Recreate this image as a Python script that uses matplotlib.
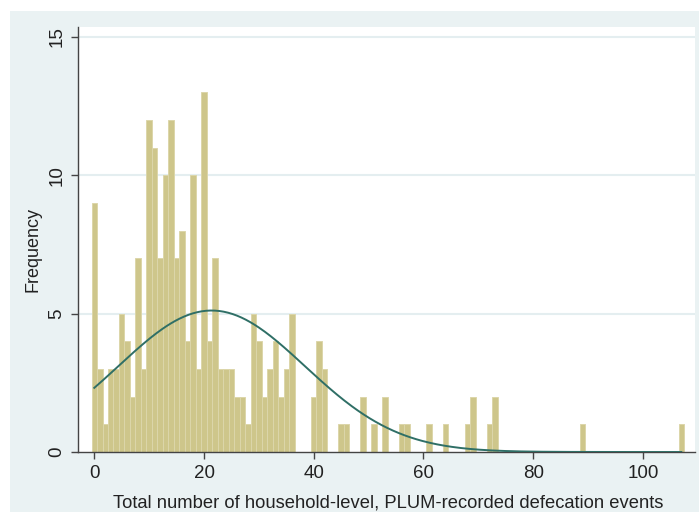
import numpy as np
import matplotlib
matplotlib.use("Agg")
import matplotlib.pyplot as plt

plt.rcParams['font.family'] = ['Liberation Sans', 'DejaVu Sans']

# Household-level event counts (discrete bins of width 1) and their frequencies
event_counts = [0, 1, 2, 3, 4, 5, 6, 7, 8, 9, 10, 11, 12, 13, 14, 15, 16, 17, 18, 19,
                20, 21, 22, 23, 24, 25, 26, 27, 28, 29, 30, 31, 32, 33, 34, 35, 36,
                40, 41, 42, 45, 46, 49, 51, 53, 56, 57, 61, 64, 68, 69, 72, 73, 89, 107]
frequencies = [9, 3, 1, 3, 3, 5, 4, 2, 7, 3, 12, 11, 7, 10, 12, 7, 8, 4, 10, 3,
               13, 4, 7, 3, 3, 3, 2, 2, 1, 5, 4, 2, 3, 4, 2, 3, 5,
               2, 4, 3, 1, 1, 2, 1, 2, 1, 1, 1, 1, 1, 2, 1, 2, 1, 1]
x_ticks = [0, 20, 40, 60, 80, 100]
y_ticks = [0, 5, 10, 15]

x = np.array(event_counts, dtype=float)
f = np.array(frequencies, dtype=float)

W, H = 699, 512
fig = plt.figure(figsize=(W / 100, H / 100), dpi=100)
fig.patch.set_facecolor('white')

# Graph region background
bg = fig.add_axes([10 / W, 0, 1 - 10 / W, 1 - 11 / H], zorder=0)
bg.set_facecolor('#eaf2f3')
bg.set_xticks([])
bg.set_yticks([])
for s in bg.spines.values():
    s.set_visible(False)

ax = fig.add_axes([78 / W, (H - 452) / H, (695 - 78) / W, (452 - 27) / H], zorder=1)
ax.set_facecolor('white')

for yv in [5, 10, 15]:
    ax.axhline(yv, color='#e4eef0', lw=1.5, zorder=0.5)

ax.bar(x, f, width=1.0, align='center', color='#cec68b', edgecolor='#dcd6aa',
       linewidth=0.7, zorder=2)

# Normal density overlay scaled to frequency
n = f.sum()
mu = (x * f).sum() / n
sd = np.sqrt(((x - mu) ** 2 * f).sum() / (n - 1))
xs = np.linspace(x.min(), x.max(), 400)
ys = n * 1.0 / (sd * np.sqrt(2 * np.pi)) * np.exp(-0.5 * ((xs - mu) / sd) ** 2)
ax.plot(xs, ys, color='#2f6f66', lw=1.4, zorder=3)

ax.set_xlim(-2.97, 109.5)
ax.set_ylim(0, 15.36)
ax.set_xticks(x_ticks)
ax.set_yticks(y_ticks)
ax.set_yticklabels([str(v) for v in y_ticks], rotation=90, va='center')

for s in ['top', 'right']:
    ax.spines[s].set_visible(False)
for s in ['left', 'bottom']:
    ax.spines[s].set_color('#444444')
    ax.spines[s].set_linewidth(1.0)

ax.tick_params(axis='both', direction='out', length=5, width=1.0, color='#444444',
               labelsize=13.5, labelcolor='#222222', pad=4)

fig.text(33 / W, 1 - 250 / H, 'Frequency', rotation=90, ha='center', va='center',
         fontsize=13, color='#222222')
fig.text(388 / W, 1 - 503 / H,
         'Total number of household-level, PLUM-recorded defecation events',
         ha='center', va='center', fontsize=13.2, color='#222222')

fig.savefig('out.png', dpi=100)
